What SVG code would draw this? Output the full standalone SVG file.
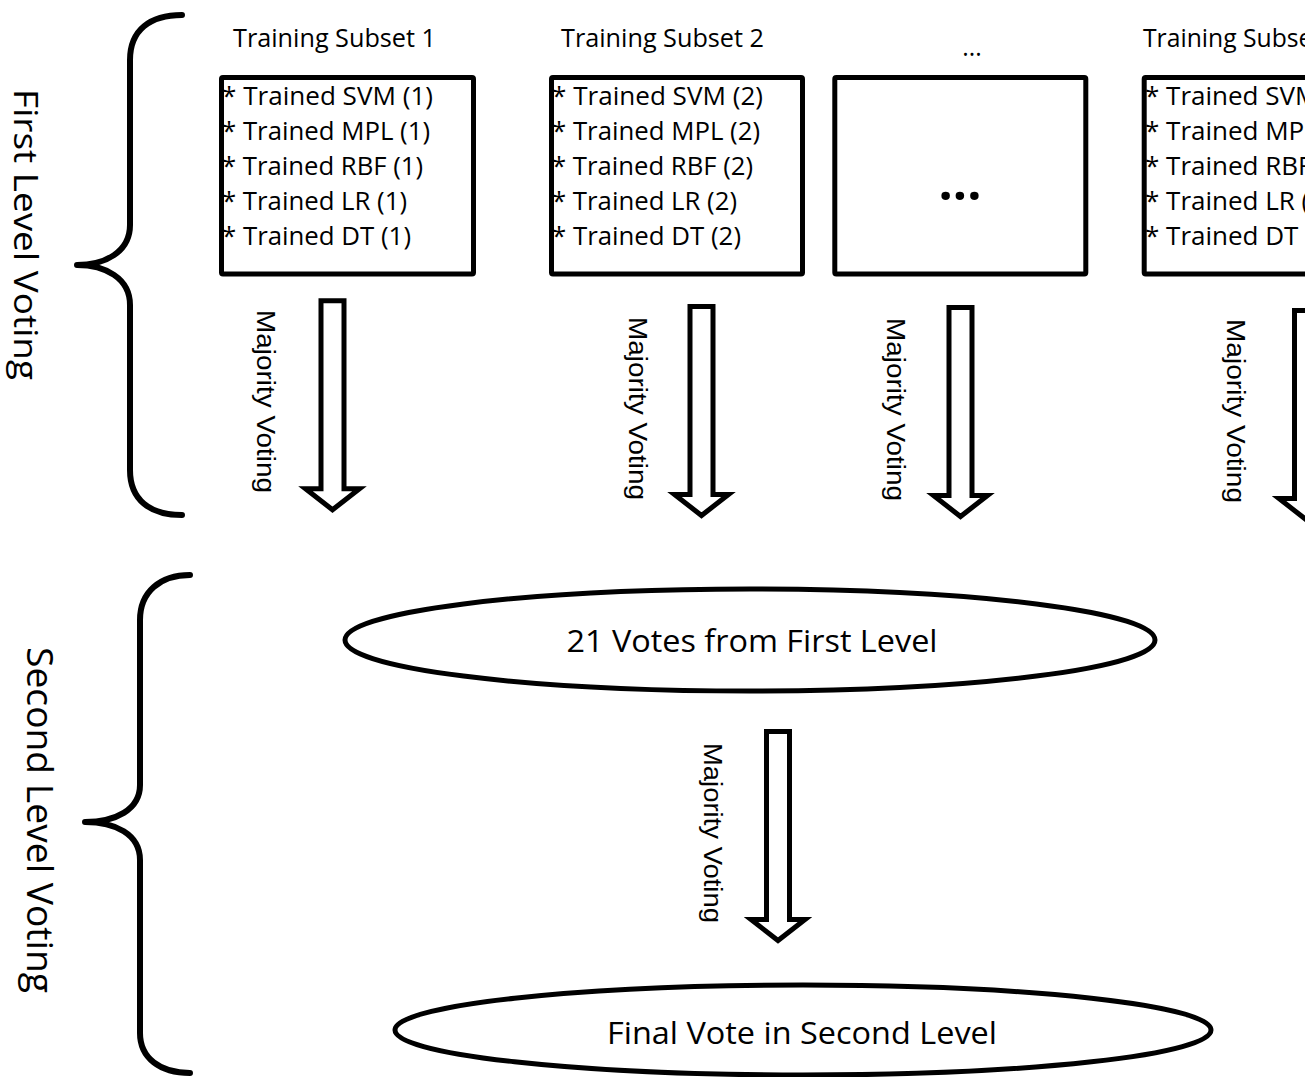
<svg xmlns="http://www.w3.org/2000/svg" width="1305" height="1077" viewBox="0 0 1305 1077">
  <style>
    text { font-family: "Open Sans", "Noto Sans", "Liberation Sans", sans-serif; fill: #000; }
    .title { font-size: 24.7px; }
    .item { font-size: 26px; }
    .vote { font-family: "Liberation Sans", Arial, sans-serif; font-size: 26.5px; }
    .side { font-size: 32px; }
    .side2 { font-size: 36px; }
    .oval { font-size: 31.5px; text-anchor: middle; }
    .box { fill: #fff; stroke: #000; stroke-width: 5; }
    .brace { fill: none; stroke: #000; stroke-width: 6; stroke-linecap: round; stroke-linejoin: round; }
    .blk { fill: #fff; stroke: #000; stroke-width: 5; stroke-linejoin: miter; stroke-miterlimit: 10; }
    .ell { fill: #fff; stroke: #000; stroke-width: 5; }
  </style>
  <defs>
    <!-- hollow block arrow pointing down, origin at top centre of the shaft -->
    <path id="blockArrow" d="M-11.5,0 L11.5,0 L11.5,188 L27,188 L0,209 L-27,188 L-11.5,188 Z"/>
  </defs>

  <!-- level brackets and their labels -->
  <g id="level1">
    <path class="brace" d="M182,15 C150,15 130,30 130,60 L130,225 C130,252 105,265 77,265 C105,265 130,278 130,305 L130,470 C130,500 150,515 182,515"/>
    <text class="side" transform="translate(14,89) rotate(90)" textLength="291" lengthAdjust="spacingAndGlyphs">First Level Voting</text>
  </g>
  <g id="level2">
    <path class="brace" d="M190,575 C160,575 140,592 140,620 L140,785 C140,810 115,822 85,822 C115,822 140,834 140,860 L140,1033 C140,1058 160,1073 190,1073"/>
    <text class="side2" transform="translate(27,647) rotate(90)" textLength="346" lengthAdjust="spacingAndGlyphs">Second Level Voting</text>
  </g>

  <!-- training subsets -->
  <g id="subset1">
    <text class="title" x="233" y="46.5" textLength="203" lengthAdjust="spacingAndGlyphs">Training Subset 1</text>
    <rect class="box" x="221.5" y="77.5" width="252" height="196.5" rx="1.5"/>
    <text class="item" x="222" y="105" textLength="211" lengthAdjust="spacingAndGlyphs">* Trained SVM (1)</text>
    <text class="item" x="222" y="140" textLength="208" lengthAdjust="spacingAndGlyphs">* Trained MPL (1)</text>
    <text class="item" x="222" y="175" textLength="201" lengthAdjust="spacingAndGlyphs">* Trained RBF (1)</text>
    <text class="item" x="222" y="210" textLength="185" lengthAdjust="spacingAndGlyphs">* Trained LR (1)</text>
    <text class="item" x="222" y="245" textLength="189" lengthAdjust="spacingAndGlyphs">* Trained DT (1)</text>
  </g>
  <g id="subset2">
    <text class="title" x="561" y="46.5" textLength="203" lengthAdjust="spacingAndGlyphs">Training Subset 2</text>
    <rect class="box" x="551.5" y="77.5" width="251" height="196.5" rx="1.5"/>
    <text class="item" x="552" y="105" textLength="211" lengthAdjust="spacingAndGlyphs">* Trained SVM (2)</text>
    <text class="item" x="552" y="140" textLength="208" lengthAdjust="spacingAndGlyphs">* Trained MPL (2)</text>
    <text class="item" x="552" y="175" textLength="201" lengthAdjust="spacingAndGlyphs">* Trained RBF (2)</text>
    <text class="item" x="552" y="210" textLength="185" lengthAdjust="spacingAndGlyphs">* Trained LR (2)</text>
    <text class="item" x="552" y="245" textLength="189" lengthAdjust="spacingAndGlyphs">* Trained DT (2)</text>
  </g>
  <g id="subsetMore">
    <text class="title" x="972" y="56" text-anchor="middle">...</text>
    <rect class="box" x="834.8" y="77.5" width="251" height="196.5" rx="1.5"/>
    <text x="960" y="200" text-anchor="middle" style="font-size:50px;font-weight:bold">...</text>
  </g>
  <g id="subsetLast">
    <text class="title" x="1143" y="46.5">Training Subset</text>
    <rect class="box" x="1144.2" y="77.5" width="251" height="196.5" rx="1.5"/>
    <text class="item" x="1145" y="105">* Trained SVM</text>
    <text class="item" x="1145" y="140">* Trained MPL</text>
    <text class="item" x="1145" y="175">* Trained RBF</text>
    <text class="item" x="1145" y="210">* Trained LR (</text>
    <text class="item" x="1145" y="245">* Trained DT (</text>
  </g>

  <!-- vote aggregation -->
  <g id="votes21">
    <ellipse class="ell" cx="750" cy="640" rx="405" ry="51"/>
    <text class="oval" x="752" y="652" textLength="371" lengthAdjust="spacingAndGlyphs">21 Votes from First Level</text>
  </g>
  <g id="finalVote">
    <ellipse class="ell" cx="803" cy="1030" rx="408" ry="45"/>
    <text class="oval" x="802" y="1044" textLength="390" lengthAdjust="spacingAndGlyphs">Final Vote in Second Level</text>
  </g>

  <!-- majority voting arrows -->
  <g id="connectors">
    <use href="#blockArrow" class="blk" transform="translate(332.5,300.8)"/>
    <text class="vote" transform="translate(257,310) rotate(90)" textLength="183" lengthAdjust="spacingAndGlyphs">Majority Voting</text>
    <use href="#blockArrow" class="blk" transform="translate(701.5,306.5)"/>
    <text class="vote" transform="translate(628.7,317) rotate(90)" textLength="183" lengthAdjust="spacingAndGlyphs">Majority Voting</text>
    <use href="#blockArrow" class="blk" transform="translate(960.5,307.5)"/>
    <text class="vote" transform="translate(887,318) rotate(90)" textLength="183" lengthAdjust="spacingAndGlyphs">Majority Voting</text>
    <use href="#blockArrow" class="blk" transform="translate(1306,310.5)"/>
    <text class="vote" transform="translate(1227,319) rotate(90)" textLength="184" lengthAdjust="spacingAndGlyphs">Majority Voting</text>
    <use href="#blockArrow" class="blk" transform="translate(778,731.5)"/>
    <text class="vote" transform="translate(703.5,743) rotate(90)" textLength="180" lengthAdjust="spacingAndGlyphs">Majority Voting</text>
  </g>
</svg>
